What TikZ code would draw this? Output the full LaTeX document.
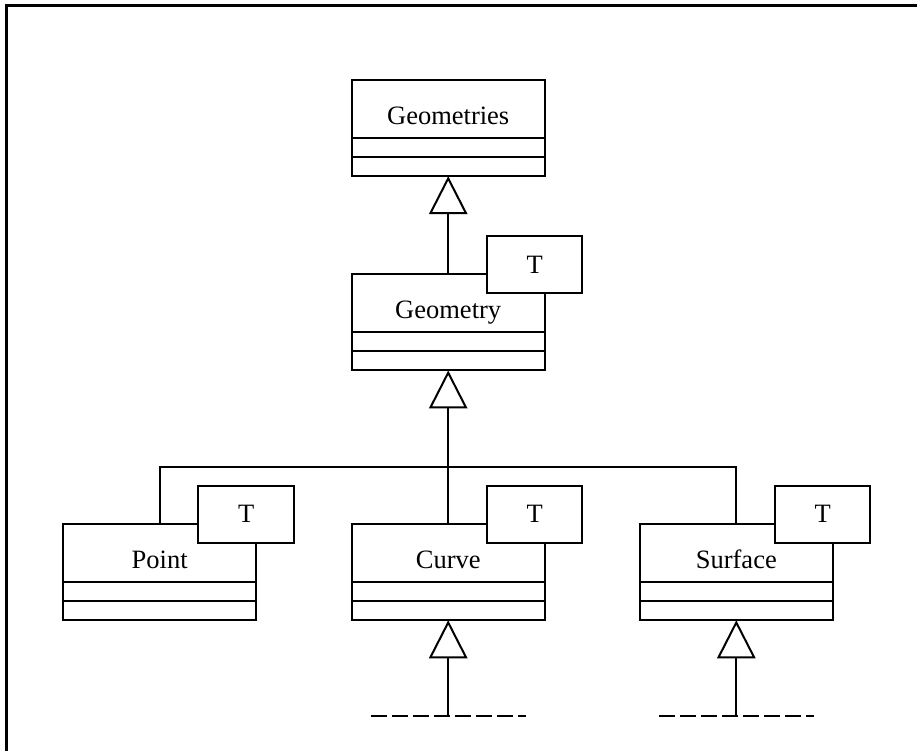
\documentclass[tikz,border=0pt]{standalone}
\usepackage{fontspec}
\setmainfont{Liberation Serif}
\usetikzlibrary{arrows.meta,calc}

\tikzset{
  uml/.style={line width=2pt},
  classname/.style={uml, draw, fill=white, minimum width=192.7pt, minimum height=57.7pt,
    inner sep=0pt, outer sep=0pt, text height=31.4pt, text depth=0pt,
    font=\fontsize{26.5}{31}\selectfont},
  compartment/.style={uml, draw, fill=white, minimum width=192.7pt, minimum height=19.2pt,
    inner sep=0pt, outer sep=0pt, anchor=north},
  param/.style={uml, draw, fill=white, minimum width=95.3pt, minimum height=57pt,
    inner sep=0pt, outer sep=0pt, anchor=north west, font=\fontsize{26.5}{31}\selectfont},
  generalize/.style={uml, -{Triangle[length=38pt, width=38.3pt, fill=white]}},
  link/.style={uml},
  ellipsis/.style={uml, dash pattern=on 16pt off 5pt},
  frame/.style={line width=3pt}
}

\begin{document}
\begin{tikzpicture}[x=1pt, y=-1pt]
  \useasboundingbox (0,0) rectangle (917,751);

  % partial frame (top and left edges)
  \draw[frame] (6.5,751) -- (6.5,5.5) -- (917,5.5);

  % Geometries
  \node[classname] (gsname) at (448.2,108.9) {Geometries};
  \node[compartment] (gsattr) at (gsname.south) {};
  \node[compartment] (gsops) at (gsattr.south) {};

  % Geometry<T>
  \node[classname] (gname) at (448.2,303.2) {Geometry};
  \node[compartment] (gattr) at (gname.south) {};
  \node[compartment] (gops) at (gattr.south) {};

  % Point<T>, Curve<T>, Surface<T>
  \node[classname] (pname) at (159.7,553) {Point};
  \node[compartment] (pattr) at (pname.south) {};
  \node[compartment] (pops) at (pattr.south) {};

  \node[classname] (cname) at (448.2,553) {Curve};
  \node[compartment] (cattr) at (cname.south) {};
  \node[compartment] (cops) at (cattr.south) {};

  \node[classname] (sname) at (736.3,553) {Surface};
  \node[compartment] (sattr) at (sname.south) {};
  \node[compartment] (sops) at (sattr.south) {};

  % generalizations
  \draw[generalize] (gname.north) -- (gsops.south);

  \coordinate (bus) at (448.2,466.5);
  \draw[link] (pname.north) |- (bus) -| (sname.north);
  \draw[link] (cname.north) -- (bus);
  \draw[generalize] (bus) -- (gops.south);

  % open-ended subclass hierarchies
  \coordinate (cfoot) at (448.2,716);
  \coordinate (cleft) at (370.7,716);
  \coordinate (cright) at (525.7,716);
  \draw[ellipsis] (cleft) -- (cright);
  \draw[generalize] (cfoot) -- (cops.south);

  \coordinate (sfoot) at (736.3,716);
  \coordinate (sleft) at (659,716);
  \coordinate (sright) at (814,716);
  \draw[ellipsis] (sleft) -- (sright);
  \draw[generalize] (sfoot) -- (sops.south);

  % template parameters
  \node[param] (gT) at ($(gname.north east)+(-57.6,-38.4)$) {T};
  \node[param] (pT) at ($(pname.north east)+(-57.6,-38.4)$) {T};
  \node[param] (cT) at ($(cname.north east)+(-57.6,-38.4)$) {T};
  \node[param] (sT) at ($(sname.north east)+(-57.6,-38.4)$) {T};
\end{tikzpicture}
\end{document}
